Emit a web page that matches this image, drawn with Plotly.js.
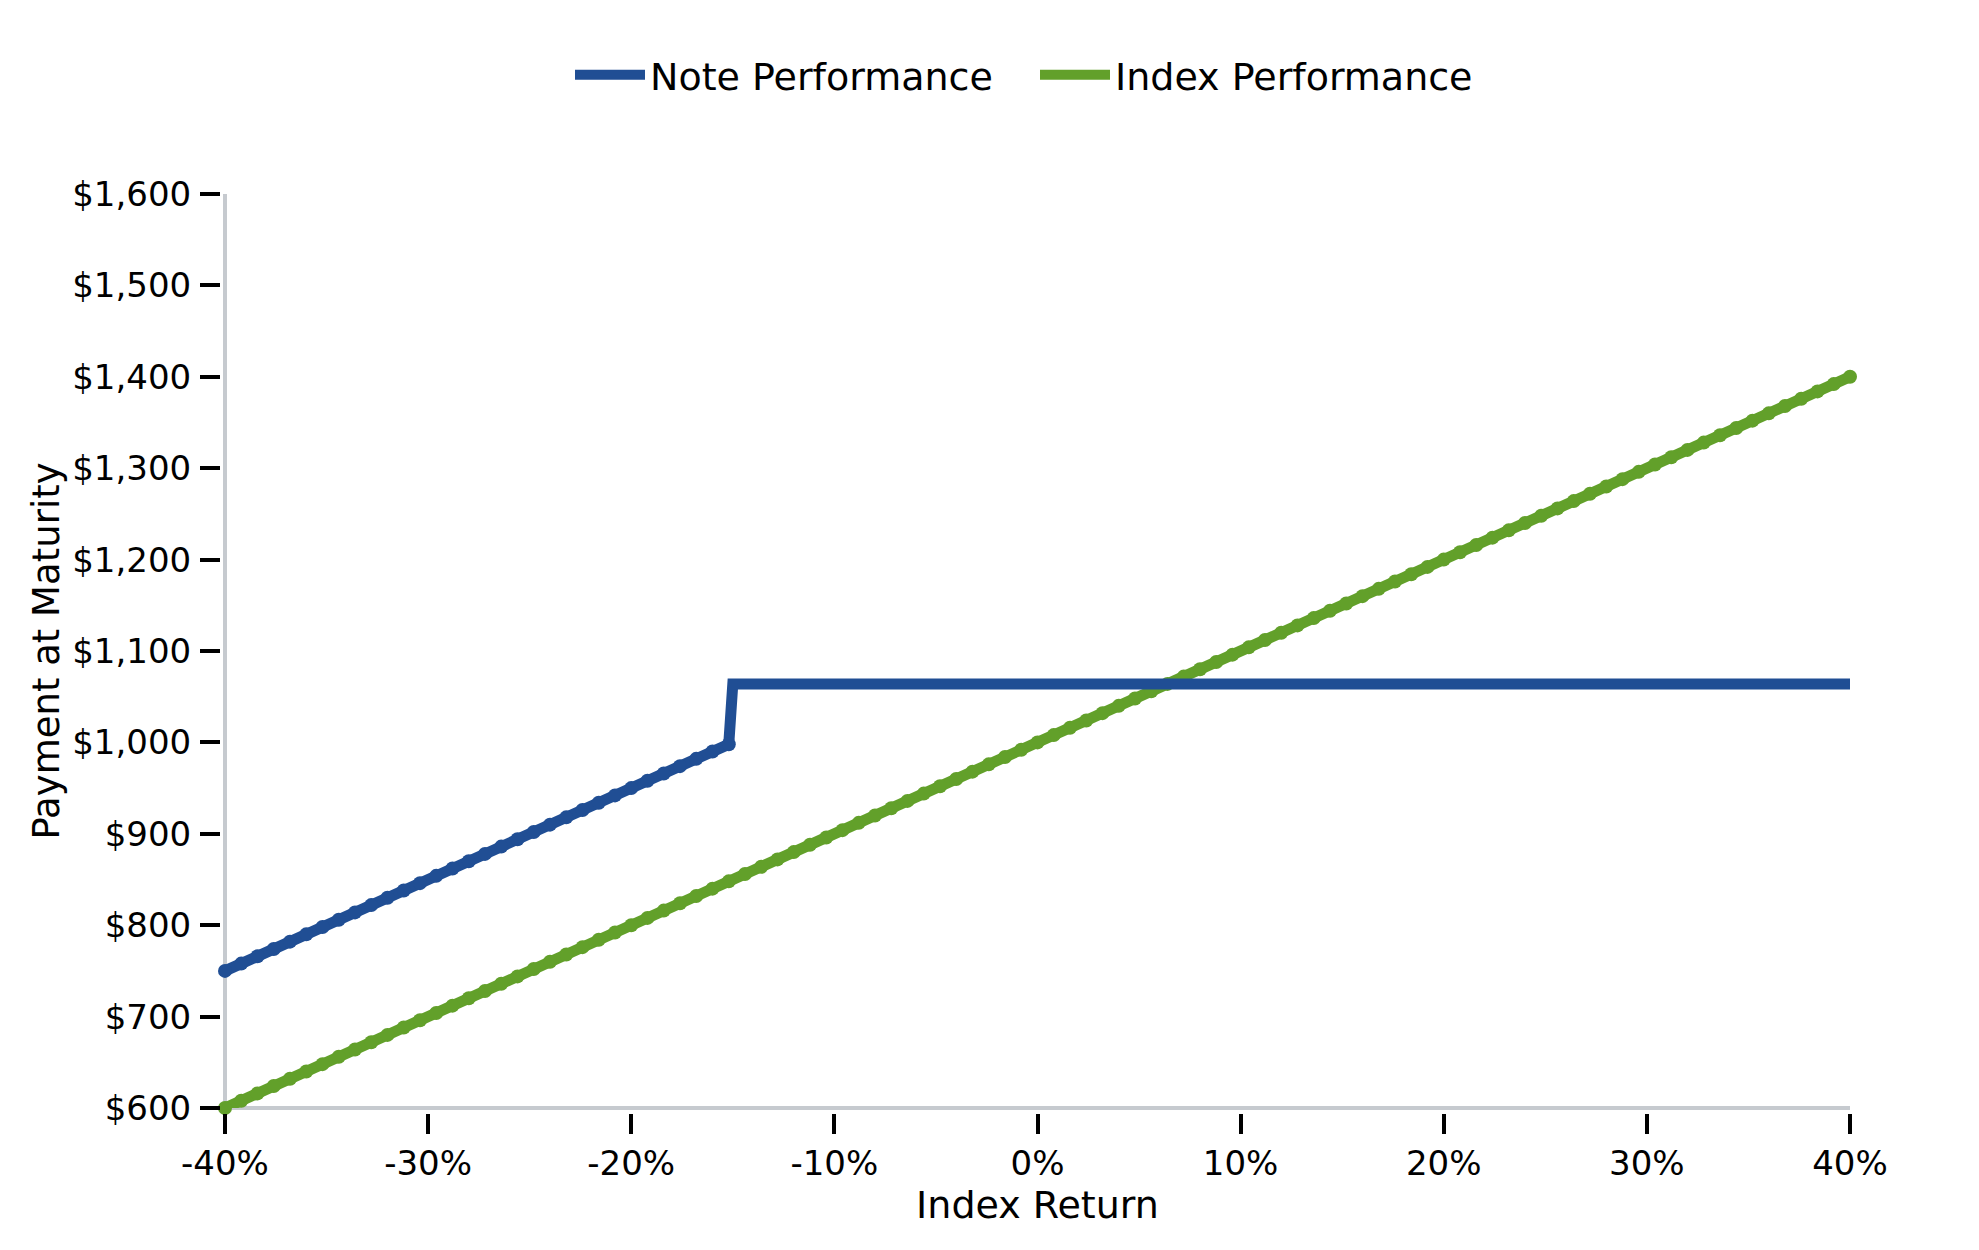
<!DOCTYPE html>
<html>
<head>
<meta charset="utf-8">
<script src="https://cdn.plot.ly/plotly-3.0.1.min.js"></script>
<style>
html, body { margin: 0; padding: 0; background: #ffffff; }
#chart { width: 1979px; height: 1250px; }
</style>
</head>
<body>
<div id="chart"></div>
<script>
// index return in percent, payment at maturity in dollars
var indexReturn = [
    -40, -39.2, -38.4, -37.6, -36.8, -36, -35.2, -34.4, -33.6, -32.8,
    -32, -31.2, -30.4, -29.6, -28.8, -28, -27.2, -26.4, -25.6, -24.8,
    -24, -23.2, -22.4, -21.6, -20.8, -20, -19.2, -18.4, -17.6, -16.8,
    -16, -15.2, -14.4, -13.6, -12.8, -12, -11.2, -10.4, -9.6, -8.8,
    -8, -7.2, -6.4, -5.6, -4.8, -4, -3.2, -2.4, -1.6, -0.8,
    0, 0.8, 1.6, 2.4, 3.2, 4, 4.8, 5.6, 6.4, 7.2,
    8, 8.8, 9.6, 10.4, 11.2, 12, 12.8, 13.6, 14.4, 15.2,
    16, 16.8, 17.6, 18.4, 19.2, 20, 20.8, 21.6, 22.4, 23.2,
    24, 24.8, 25.6, 26.4, 27.2, 28, 28.8, 29.6, 30.4, 31.2,
    32, 32.8, 33.6, 34.4, 35.2, 36, 36.8, 37.6, 38.4, 39.2,
    40
]
var indexPayment = [
    600, 608, 616, 624, 632, 640, 648, 656, 664, 672,
    680, 688, 696, 704, 712, 720, 728, 736, 744, 752,
    760, 768, 776, 784, 792, 800, 808, 816, 824, 832,
    840, 848, 856, 864, 872, 880, 888, 896, 904, 912,
    920, 928, 936, 944, 952, 960, 968, 976, 984, 992,
    1000, 1008, 1016, 1024, 1032, 1040, 1048, 1056, 1064, 1072,
    1080, 1088, 1096, 1104, 1112, 1120, 1128, 1136, 1144, 1152,
    1160, 1168, 1176, 1184, 1192, 1200, 1208, 1216, 1224, 1232,
    1240, 1248, 1256, 1264, 1272, 1280, 1288, 1296, 1304, 1312,
    1320, 1328, 1336, 1344, 1352, 1360, 1368, 1376, 1384, 1392,
    1400
]

var noteReturn = [
    -40, -39.2, -38.4, -37.6, -36.8, -36, -35.2, -34.4, -33.6, -32.8,
    -32, -31.2, -30.4, -29.6, -28.8, -28, -27.2, -26.4, -25.6, -24.8,
    -24, -23.2, -22.4, -21.6, -20.8, -20, -19.2, -18.4, -17.6, -16.8,
    -16, -15.2, -15, -14.4, -13.6, -12.8, -12, -11.2, -10.4, -9.6, -8.8,
    -8, -7.2, -6.4, -5.6, -4.8, -4, -3.2, -2.4, -1.6, -0.8,
    0, 0.8, 1.6, 2.4, 3.2, 4, 4.8, 5.6, 6.4, 7.2,
    8, 8.8, 9.6, 10.4, 11.2, 12, 12.8, 13.6, 14.4, 15.2,
    16, 16.8, 17.6, 18.4, 19.2, 20, 20.8, 21.6, 22.4, 23.2,
    24, 24.8, 25.6, 26.4, 27.2, 28, 28.8, 29.6, 30.4, 31.2,
    32, 32.8, 33.6, 34.4, 35.2, 36, 36.8, 37.6, 38.4, 39.2,
    40
]
var notePayment = [
    750, 758, 766, 774, 782, 790, 798, 806, 814, 822,
    830, 838, 846, 854, 862, 870, 878, 886, 894, 902,
    910, 918, 926, 934, 942, 950, 958, 966, 974, 982,
    990, 998, 1064, 1064, 1064, 1064, 1064, 1064, 1064, 1064, 1064,
    1064, 1064, 1064, 1064, 1064, 1064, 1064, 1064, 1064, 1064,
    1064, 1064, 1064, 1064, 1064, 1064, 1064, 1064, 1064, 1064,
    1064, 1064, 1064, 1064, 1064, 1064, 1064, 1064, 1064, 1064,
    1064, 1064, 1064, 1064, 1064, 1064, 1064, 1064, 1064, 1064,
    1064, 1064, 1064, 1064, 1064, 1064, 1064, 1064, 1064, 1064,
    1064, 1064, 1064, 1064, 1064, 1064, 1064, 1064, 1064, 1064,
    1064
]
var noteCap = 1064

var xTickVals = [-40, -30, -20, -10, 0, 10, 20, 30, 40]
var xTickText = ["-40%", "-30%", "-20%", "-10%", "0%", "10%", "20%", "30%", "40%"]
var yTickVals = [600, 700, 800, 900, 1000, 1100, 1200, 1300, 1400, 1500, 1600]
var yTickText = ["$600", "$700", "$800", "$900", "$1,000", "$1,100", "$1,200",
    "$1,300", "$1,400", "$1,500", "$1,600"]

var noteColor = "#204e94"
var indexColor = "#62a02a"
var spineColor = "#c6cacf"
var FONT = "DejaVu Sans, sans-serif"

function lineTrace(name, x, y, color) {
    return {
        name: name,
        x: x,
        y: y,
        mode: "lines",
        type: "scatter",
        cliponaxis: false,
        line: { color: color, width: 11 }
    }
}

function dotTrace(name, x, y, color) {
    return {
        name: name,
        x: x,
        y: y,
        mode: "markers",
        type: "scatter",
        cliponaxis: false,
        showlegend: false,
        marker: { color: color, size: 14 }
    }
}

function renderChart() {
    // the flat part of the note line carries no dots
    var noteDotX = [], noteDotY = []
    notePayment.forEach((v, i) => {
        if (v < noteCap) {
            noteDotX.push(noteReturn[i])
            noteDotY.push(v)
        }
    })

    // note drawn on top of the index line
    var data = [
        lineTrace("Index Performance", indexReturn, indexPayment, indexColor),
        dotTrace("Index Performance", indexReturn, indexPayment, indexColor),
        lineTrace("Note Performance", noteReturn, notePayment, noteColor),
        dotTrace("Note Performance", noteDotX, noteDotY, noteColor)
    ]

    var layout = {
        width: 1979,
        height: 1250,
        margin: { l: 220, r: 129, t: 194, b: 137, pad: 0 },
        font: { family: FONT, size: 34, color: "#000000" },
        paper_bgcolor: "#ffffff",
        plot_bgcolor: "#ffffff",
        showlegend: true,
        legend: {
            orientation: "h",
            traceorder: "reversed",
            x: 0.5,
            xanchor: "center",
            yref: "container",
            y: 0.94,
            yanchor: "middle",
            font: { family: FONT, size: 38, color: "#000000" },
            itemwidth: 70,
            entrywidth: 380
        },
        xaxis: {
            domain: [5 / 1630, 1],
            anchor: "free",
            position: 0,
            range: [-40, 40],
            tickvals: xTickVals,
            ticktext: xTickText,
            ticks: "outside",
            ticklen: 20,
            tickwidth: 4,
            tickcolor: "#000000",
            showgrid: false,
            zeroline: false,
            showline: false,
            tickfont: { family: FONT, size: 34, color: "#000000" },
            title: {
                text: "Index Return",
                font: { family: FONT, size: 38, color: "#000000" },
                standoff: 4
            }
        },
        yaxis: {
            domain: [5 / 919, 1],
            anchor: "free",
            position: 0,
            range: [600, 1600],
            tickvals: yTickVals,
            ticktext: yTickText,
            ticks: "outside",
            ticklen: 20,
            tickwidth: 4,
            tickcolor: "#000000",
            ticklabelstandoff: 2,
            showgrid: false,
            zeroline: false,
            showline: false,
            tickfont: { family: FONT, size: 34, color: "#000000" },
            title: {
                text: "Payment at Maturity",
                font: { family: FONT, size: 37, color: "#000000" },
                standoff: 0
            }
        },
        shapes: [
            {
                type: "line", layer: "below",
                xref: "x domain", yref: "y domain",
                x0: 0, x1: 1, y0: 0, y1: 0,
                line: { color: spineColor, width: 4 }
            },
            {
                type: "line", layer: "below",
                xref: "x domain", yref: "y domain",
                x0: 0, x1: 0, y0: 0, y1: 1,
                line: { color: spineColor, width: 4 }
            }
        ]
    }

    Plotly.newPlot("chart", data, layout, {
        displayModeBar: false,
        staticPlot: true
    })
}

renderChart()
</script>
</body>
</html>
